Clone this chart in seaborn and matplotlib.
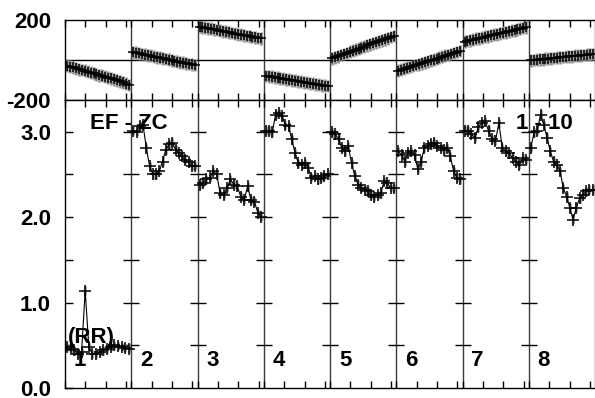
import numpy as np
import pandas as pd
import matplotlib
matplotlib.use("Agg")
import matplotlib.pyplot as plt
import seaborn as sns

# === Datos ===
SEG_LEN = 3.25          # ancho de cada segmento en unidades del eje x
N_SEG = 8

# panel superior (-200..200), un array por segmento
top_1 = [-28, -33, -37, -41, -46, -50, -54, -59, -63, -67, -71, -76, -79, -84, -88, -92, -97, -101, -106, -111, -118, -125]
top_2 = [38, 36, 33, 30, 27, 24, 21, 17, 14, 12, 8, 5, 2, -2, -5, -8, -11, -14, -17, -20, -22, -25]
top_3 = [167, 164, 162, 159, 156, 153, 150, 147, 144, 141, 138, 135, 132, 129, 126, 123, 120, 118, 115, 113, 110, 108]
top_4 = [-80, -82, -84, -87, -89, -92, -94, -97, -99, -102, -104, -107, -109, -112, -114, -117, -119, -121, -123, -126, -128, -130]
top_5 = [8, 14, 19, 25, 30, 35, 41, 46, 51, 57, 62, 67, 73, 78, 83, 89, 94, 99, 104, 109, 115, 120]
top_6 = [-53, -48, -44, -39, -35, -30, -25, -21, -16, -12, -7, -2, 2, 7, 12, 16, 21, 25, 30, 35, 40, 45]
top_7 = [92, 95, 99, 102, 106, 109, 112, 116, 119, 123, 126, 129, 133, 136, 139, 143, 146, 149, 153, 156, 160, 163]
top_8 = [-2, 0, 1, 3, 4, 6, 7, 9, 10, 12, 13, 15, 16, 18, 19, 21, 22, 24, 25, 27, 28, 30]

# panel inferior (RR), un array por segmento
rr_1 = [0.48, 0.46, 0.44, 0.40, 0.42, 1.14, 0.48, 0.40, 0.40, 0.42, 0.44, 0.46, 0.48, 0.50, 0.49, 0.48, 0.47, 0.46]
rr_2 = [3.01, 3.00, 3.07, 3.08, 2.81, 2.60, 2.50, 2.50, 2.54, 2.65, 2.79, 2.85, 2.87, 2.79, 2.75, 2.71, 2.67, 2.64, 2.60, 2.60]
rr_3 = [2.38, 2.40, 2.44, 2.46, 2.54, 2.50, 2.28, 2.26, 2.34, 2.44, 2.38, 2.36, 2.24, 2.20, 2.36, 2.20, 2.18, 2.05, 2.00]
rr_4 = [3.01, 3.01, 2.99, 3.20, 3.22, 3.18, 3.08, 3.06, 2.91, 2.75, 2.63, 2.61, 2.63, 2.58, 2.46, 2.48, 2.44, 2.46, 2.48, 2.50]
rr_5 = [2.99, 2.97, 2.91, 2.81, 2.77, 2.83, 2.63, 2.48, 2.38, 2.34, 2.32, 2.30, 2.26, 2.24, 2.26, 2.28, 2.42, 2.40, 2.34, 2.34]
rr_6 = [2.77, 2.73, 2.65, 2.75, 2.77, 2.73, 2.56, 2.65, 2.81, 2.83, 2.85, 2.87, 2.83, 2.81, 2.79, 2.81, 2.71, 2.54, 2.46, 2.44]
rr_7 = [3.01, 3.01, 2.97, 2.93, 3.05, 3.10, 3.12, 3.01, 2.91, 2.89, 3.10, 2.81, 2.77, 2.75, 2.69, 2.65, 2.61, 2.69, 2.67]
rr_8 = [2.81, 2.99, 3.01, 3.20, 3.08, 2.93, 2.77, 2.65, 2.61, 2.54, 2.34, 2.24, 2.11, 1.97, 2.11, 2.22, 2.26, 2.30, 2.32, 2.32]

seg_labels = ["1", "2", "3", "4", "5", "6", "7", "8"]
top_series = [top_1, top_2, top_3, top_4, top_5, top_6, top_7, top_8]
rr_series = [rr_1, rr_2, rr_3, rr_4, rr_5, rr_6, rr_7, rr_8]

ERR_TOP = 32
ERR_RR = 0.05


def armar(series):
    filas = []
    for k, vals in enumerate(series):
        xs = k * SEG_LEN + np.linspace(0.1, SEG_LEN - 0.12, len(vals))
        for x, v in zip(xs, vals):
            filas.append({"seg": k, "x": x, "y": v})
    return pd.DataFrame(filas)


df_top = armar(top_series)
df_rr = armar(rr_series)

sns.set_style("white")
plt.rcParams["font.family"] = ["Liberation Sans", "DejaVu Sans"]
plt.rcParams["font.weight"] = "bold"
for clave in ("text.color", "axes.labelcolor", "xtick.color", "ytick.color"):
    plt.rcParams[clave] = "black"

fig = plt.figure(figsize=(5.95, 3.98), dpi=100)
ax_t = fig.add_axes([65 / 595, 1 - 100 / 398, 530 / 595, 80 / 398])
ax_b = fig.add_axes([65 / 595, 1 - 388 / 398, 530 / 595, 288 / 398])


def dibujar(ax, df, err, msize):
    ax.errorbar(df["x"], df["y"], yerr=err, fmt="none", ecolor="#8a8a8a",
                elinewidth=1.8, capsize=0, zorder=1)
    sns.lineplot(data=df, x="x", y="y", units="seg", estimator=None, sort=False,
                 color="black", lw=0.8, marker="+", markersize=msize,
                 markeredgewidth=1.1, markeredgecolor="black", legend=False,
                 ax=ax, zorder=2)
    ax.set_xlabel(""); ax.set_ylabel("")


dibujar(ax_t, df_top, ERR_TOP, 7)
dibujar(ax_b, df_rr, ERR_RR, 8)

xt = [k * SEG_LEN + d for k in range(N_SEG) for d in (0, 1, 2, 3)]
for ax in (ax_t, ax_b):
    ax.set_xlim(0, N_SEG * SEG_LEN)
    ax.set_xticks(xt)
    ax.tick_params(axis="x", direction="in", length=5, width=1,
                   top=True, bottom=True, labelbottom=False)
    ax.spines["right"].set_visible(False)
    for s in ("left", "top", "bottom"):
        ax.spines[s].set_color("black")
        ax.spines[s].set_linewidth(1)
    for k in range(1, N_SEG + 1):
        ax.axvline(k * SEG_LEN, color="#3a3a3a", lw=1, zorder=0)

# panel superior
ax_t.set_ylim(-200, 200)
ax_t.set_yticks([-200, 200])
ax_t.set_yticklabels(["-200", "200"])
ax_t.tick_params(axis="y", length=0, labelsize=16, pad=10)
ax_t.axhline(0, color="black", lw=1, zorder=0)

# panel inferior
ax_b.set_ylim(0, 3.37)
ax_b.set_yticks([0, 1, 2, 3])
ax_b.set_yticklabels(["0.0", "1.0", "2.0", "3.0"])
ax_b.set_yticks([0.5, 1.5, 2.5], minor=True)
ax_b.tick_params(axis="y", which="both", direction="in", length=6, width=1,
                 left=True, right=False, labelsize=16, pad=10)
yt = [0.5, 1.0, 1.5, 2.0, 2.5, 3.0]
for k in range(1, N_SEG):
    ax_b.plot([k * SEG_LEN] * len(yt), yt, ls="none", marker="_",
              markersize=12, mew=1, color="black", zorder=0)

fs = dict(fontsize=16, fontweight="bold", ha="center", va="center", color="black")
ax_b.text(3.14, 3.09, "EF - ZC", **fs)
ax_b.text(23.5, 3.09, "1 - 10", **fs)
ax_b.text(1.28, 0.59, "(RR)", **fs)
for k, lab in enumerate(seg_labels):
    ax_b.text(k * SEG_LEN + 0.74, 0.32, lab, **fs)

fig.savefig("out.png", dpi=100)
plt.close(fig)
